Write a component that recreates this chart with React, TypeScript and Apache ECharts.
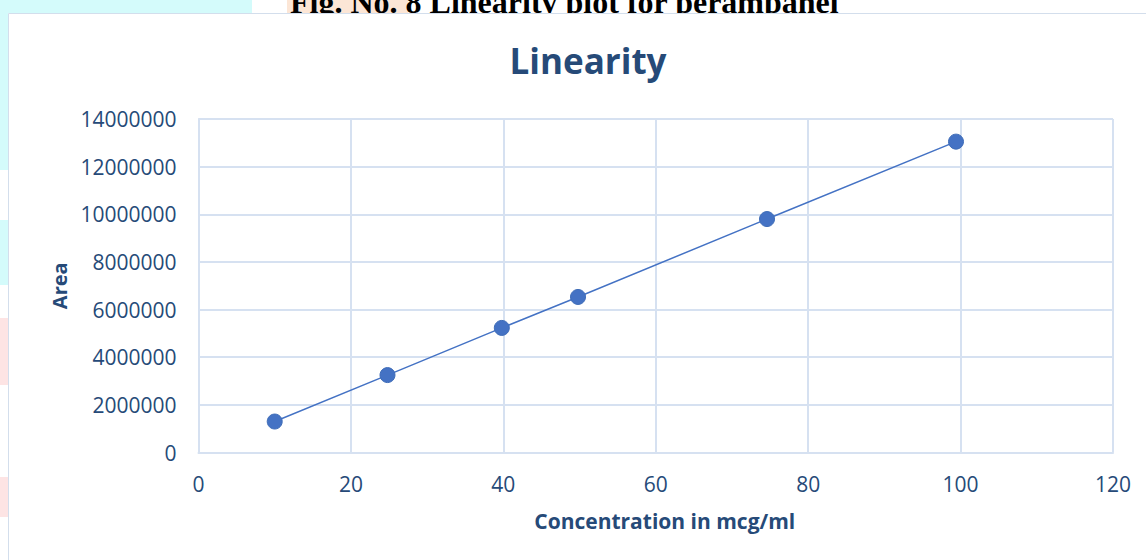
import React, { useEffect, useRef } from "react";
import * as echarts from "echarts";

const concentrations = [10, 24.8, 39.8, 49.8, 74.6, 99.4];
const areas = [1300000, 3250000, 5230000, 6530000, 9800000, 13050000];
const chartTitle = "Linearity";
const figCaption = "Fig. No. 8 Linearity plot for perampanel";
const xName = "Concentration in mcg/ml";
const yName = "Area";

const TEXT = "#264a78";
const GRID = "#d6e1f1";
const BLUE = "#4472c4";
const FONT = "'Open Sans', 'Noto Sans', sans-serif";

export default function App() {
  const ref = useRef<HTMLDivElement>(null);
  useEffect(() => {
    document.body.style.margin = "0";
    const chart = echarts.init(ref.current!, null, { renderer: "svg" });
    chart.setOption({
      animation: false,
      backgroundColor: "#ffffff",
      graphic: [
        { type: "rect", z: -20, shape: { x: 0, y: 0, width: 252, height: 13 }, style: { fill: "#d4fbfb" } },
        { type: "rect", z: -20, shape: { x: 0, y: 0, width: 8, height: 170 }, style: { fill: "#d4fbfb" } },
        { type: "rect", z: -20, shape: { x: 0, y: 220, width: 8, height: 65 }, style: { fill: "#d4fbfb" } },
        { type: "rect", z: -20, shape: { x: 0, y: 318, width: 8, height: 67 }, style: { fill: "#fde4e4" } },
        { type: "rect", z: -20, shape: { x: 0, y: 477, width: 8, height: 40 }, style: { fill: "#fde4e4" } },
        { type: "rect", z: -19, shape: { x: 287, y: 0, width: 121, height: 13 }, style: { fill: "#fce6d6" } },
        {
          type: "text", z: -18, x: 290, y: 2,
          style: { text: figCaption, fill: "#000", font: "bold 32px 'Liberation Serif', 'Times New Roman', serif", align: "left", verticalAlign: "middle" },
        },
        {
          type: "rect", z: -15,
          shape: { x: 8.5, y: 13.5, width: 1150, height: 560 },
          style: { fill: "#ffffff", stroke: "#d3deec", lineWidth: 1 },
        },
      ],
      title: {
        text: chartTitle,
        left: 583,
        top: 38,
        textAlign: "center",
        textStyle: { color: TEXT, fontFamily: FONT, fontWeight: "bold", fontSize: 35 },
      },
      grid: { left: 198.5, right: 33, top: 119, bottom: 107.5 },
      xAxis: {
        type: "value",
        min: 0,
        max: 120,
        interval: 20,
        name: xName,
        nameLocation: "middle",
        nameGap: 58,
        nameTextStyle: { color: TEXT, fontFamily: FONT, fontWeight: "bold", fontSize: 21, padding: [0, 0, 0, 18] },
        axisLine: { show: true, lineStyle: { color: GRID, width: 2 } },
        axisTick: { show: false },
        axisLabel: { color: TEXT, fontFamily: FONT, fontSize: 21, margin: 21 },
        splitLine: { show: true, lineStyle: { color: GRID, width: 2 } },
      },
      yAxis: {
        type: "value",
        min: 0,
        max: 14000000,
        interval: 2000000,
        name: yName,
        nameLocation: "middle",
        nameGap: 128,
        nameRotate: 90,
        nameTextStyle: { color: TEXT, fontFamily: FONT, fontWeight: "bold", fontSize: 20 },
        axisLine: { show: true, lineStyle: { color: GRID, width: 2 } },
        axisTick: { show: false },
        axisLabel: { color: TEXT, fontFamily: FONT, fontSize: 21, margin: 22, formatter: (v: number) => String(v) },
        splitLine: { show: true, lineStyle: { color: GRID, width: 2 } },
      },
      series: [
        {
          type: "line",
          data: concentrations.map((c, i) => [c, areas[i]]),
          symbol: "circle",
          symbolSize: 15,
          lineStyle: { color: BLUE, width: 1.5 },
          itemStyle: { color: BLUE, borderColor: "#3f6db8", borderWidth: 1 },
        },
      ],
    });
    return () => chart.dispose();
  }, []);
  return <div ref={ref} style={{ position: "absolute", left: 0, top: 0, width: 1146, height: 560 }} />;
}
